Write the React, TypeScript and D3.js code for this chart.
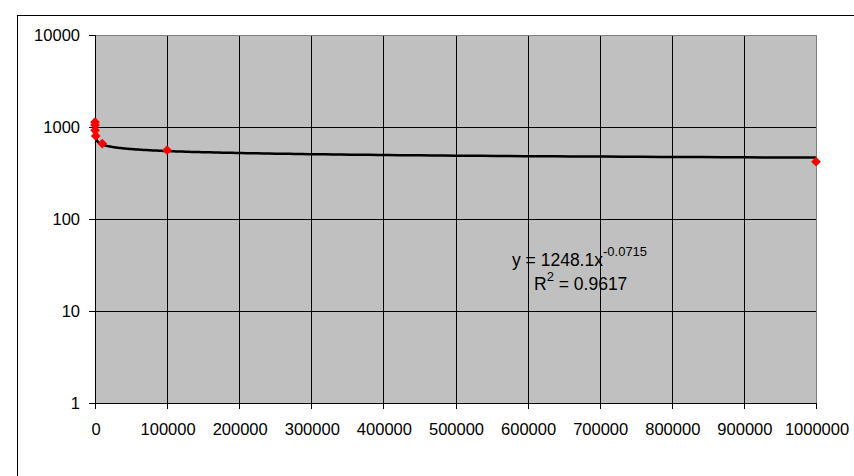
import React, { useEffect, useRef } from 'react';
import * as d3 from 'd3';

// measured points (red diamonds)
const xValues = [1, 10, 100, 1000, 10000, 100000, 1000000];
const yValues = [1130, 1050, 920, 800, 660, 560, 420];

// power trendline as shown on the chart
const trendA = 1248.1;
const trendB = -0.0715;
const rSquared = '0.9617';

const xTicks = [0, 100000, 200000, 300000, 400000, 500000, 600000, 700000, 800000, 900000, 1000000];
const yTicks = [1, 10, 100, 1000, 10000];

const App = () => {
  const svgRef = useRef<SVGSVGElement>(null);

  useEffect(() => {
    const svg = d3.select(svgRef.current);
    svg.selectAll('*').remove();

    const font = 'Liberation Sans, Arial, sans-serif';
    const left = 95, right = 816, top = 35, bottom = 403;

    const x = d3.scaleLinear().domain([0, 1000000]).range([left, right]);
    const y = d3.scaleLog().domain([1, 10000]).range([bottom, top]);

    // chart area frame (runs off the window at right and bottom)
    svg.append('rect')
      .attr('x', 17.5).attr('y', 15.5)
      .attr('width', 900).attr('height', 520)
      .attr('fill', '#fff').attr('stroke', '#000');

    // plot area
    svg.append('rect')
      .attr('x', left).attr('y', top)
      .attr('width', right - left).attr('height', bottom - top)
      .attr('fill', '#c0c0c0');

    // grid
    svg.append('g')
      .selectAll('line')
      .data(xTicks.slice(1, -1))
      .enter()
      .append('line')
      .attr('x1', d => Math.round(x(d)) + 0.5).attr('x2', d => Math.round(x(d)) + 0.5)
      .attr('y1', top).attr('y2', bottom)
      .attr('stroke', '#000');

    svg.append('g')
      .selectAll('line')
      .data(yTicks.slice(1, -1))
      .enter()
      .append('line')
      .attr('x1', left).attr('x2', right)
      .attr('y1', d => Math.round(y(d)) + 0.5).attr('y2', d => Math.round(y(d)) + 0.5)
      .attr('stroke', '#000');

    // plot border
    svg.append('rect')
      .attr('x', left + 0.5).attr('y', top + 0.5)
      .attr('width', right - left).attr('height', bottom - top)
      .attr('fill', 'none').attr('stroke', '#808080');

    // axes
    svg.append('line')
      .attr('x1', left + 0.5).attr('x2', left + 0.5)
      .attr('y1', top).attr('y2', bottom + 0.5)
      .attr('stroke', '#000');
    svg.append('line')
      .attr('x1', left).attr('x2', right + 1)
      .attr('y1', bottom + 0.5).attr('y2', bottom + 0.5)
      .attr('stroke', '#000');

    svg.append('g')
      .selectAll('line')
      .data(yTicks)
      .enter()
      .append('line')
      .attr('x1', left - 6).attr('x2', left)
      .attr('y1', d => Math.round(y(d)) + 0.5).attr('y2', d => Math.round(y(d)) + 0.5)
      .attr('stroke', '#000');

    svg.append('g')
      .selectAll('line')
      .data(xTicks)
      .enter()
      .append('line')
      .attr('x1', d => Math.round(x(d)) + 0.5).attr('x2', d => Math.round(x(d)) + 0.5)
      .attr('y1', bottom).attr('y2', bottom + 6)
      .attr('stroke', '#000');

    svg.append('g')
      .selectAll('text')
      .data(yTicks)
      .enter()
      .append('text')
      .attr('x', 80)
      .attr('y', d => y(d))
      .attr('dy', '0.35em')
      .attr('text-anchor', 'end')
      .style('font-family', font).style('font-size', '16.5px')
      .text(d => d);

    svg.append('g')
      .selectAll('text')
      .data(xTicks)
      .enter()
      .append('text')
      .attr('x', d => x(d) + 1)
      .attr('y', 429)
      .attr('dy', '0.35em')
      .attr('text-anchor', 'middle')
      .style('font-family', font).style('font-size', '16.5px')
      .text(d => d);

    // trendline
    const trendX = d3.range(0, 400).map(i => Math.pow(10, (i / 399) * 6));
    const line = d3.line<number>()
      .x(d => x(d))
      .y(d => y(trendA * Math.pow(d, trendB)));
    svg.append('path')
      .datum(trendX)
      .attr('d', line)
      .attr('fill', 'none')
      .attr('stroke', '#000')
      .attr('stroke-width', 2.5);

    // points
    const diamond = d3.symbol().type(d3.symbolDiamond2).size(60);
    svg.append('g')
      .selectAll('path')
      .data(xValues.map((v, i) => [v, yValues[i]]))
      .enter()
      .append('path')
      .attr('d', diamond)
      .attr('transform', d => `translate(${x(d[0])},${y(d[1])})`)
      .attr('fill', '#ff0000');

    // equation label
    const eq = svg.append('text')
      .attr('x', 512).attr('y', 266)
      .style('font-family', font).style('font-size', '17.5px');
    eq.append('tspan').text(`y = ${trendA}x`);
    eq.append('tspan').attr('dy', -10).style('font-size', '13px').text(`${trendB}`);

    const r2 = svg.append('text')
      .attr('x', 534).attr('y', 290)
      .style('font-family', font).style('font-size', '17.5px');
    r2.append('tspan').text('R');
    r2.append('tspan').attr('dy', -9).style('font-size', '13px').text('2');
    r2.append('tspan').attr('dy', 9).text(` = ${rSquared}`);
  }, []);

  return (
    <div style={{ position: 'absolute', left: 0, top: 0 }}>
      <svg ref={svgRef} width={854} height={476} style={{ display: 'block' }}></svg>
    </div>
  );
};

export default App;
